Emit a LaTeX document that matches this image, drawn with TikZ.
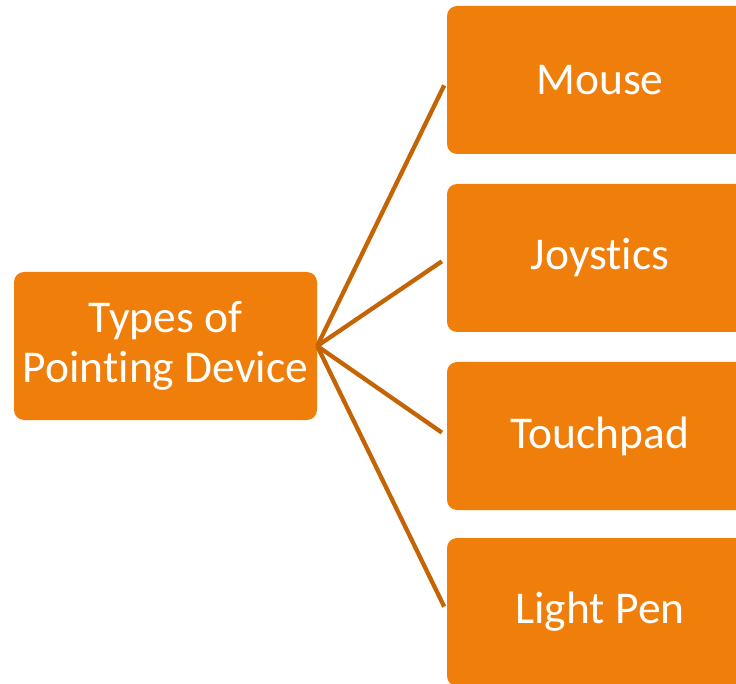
\documentclass[tikz,border=0pt]{standalone}
\usepackage{fontspec}
\setmainfont{Carlito}[Ligatures={NoCommon}]
\begin{document}
\begin{tikzpicture}[x=1pt,y=-1pt]
\definecolor{boxfill}{RGB}{239,127,10}
\definecolor{linkcol}{RGB}{197,100,5}
\tikzset{
  box/.style={fill=boxfill, rounded corners=10pt, text=white,
    font=\fontsize{45.5}{50}\selectfont, align=center, inner sep=0pt,
    minimum width=306pt, minimum height=148pt},
  link/.style={draw=linkcol, line width=4.3pt, shorten >=6pt}
}
\useasboundingbox (0,0) rectangle (736,684);
\clip (0,0) rectangle (736,684);
\node[box, minimum width=303pt] (root) at (165.5,346) {\raisebox{-1pt}{Types of}\\\raisebox{-1pt}{Point\kern0pt ing Device}};
\node[box] (m) at (600,80) {Mouse};
\node[box] (j) at (600,258) {Joyst\kern0pt ics};
\node[box] (t) at (600,436) {Touchpad};
\node[box] (l) at (600,612) {Light Pen};
\draw[link] (root.east) -- (m.west);
\draw[link] (root.east) -- (j.west);
\draw[link] (root.east) -- (t.west);
\draw[link] (root.east) -- (l.west);
\end{tikzpicture}
\end{document}
